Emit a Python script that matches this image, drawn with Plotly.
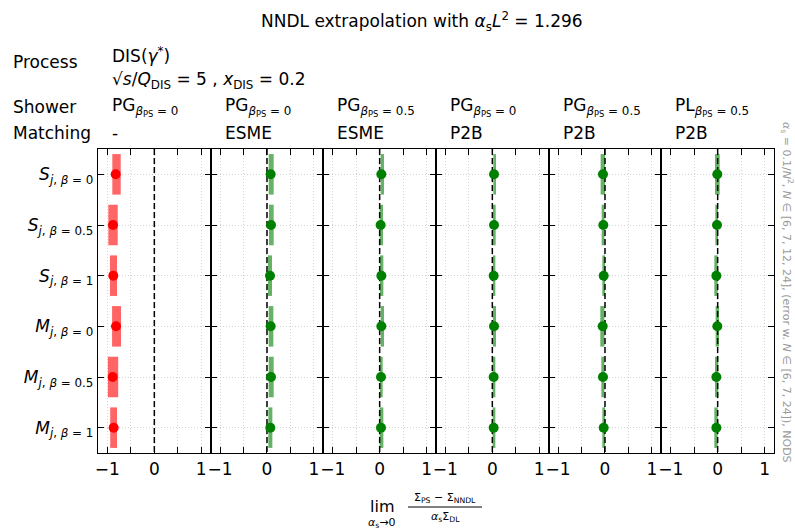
import plotly.graph_objects as go
from plotly.subplots import make_subplots

# ---------------- data ----------------
row_labels = [
    "<i>S</i><sub><i>j</i>, <i>β</i> = 0</sub>",
    "<i>S</i><sub><i>j</i>, <i>β</i> = 0.5</sub>",
    "<i>S</i><sub><i>j</i>, <i>β</i> = 1</sub>",
    "<i>M</i><sub><i>j</i>, <i>β</i> = 0</sub>",
    "<i>M</i><sub><i>j</i>, <i>β</i> = 0.5</sub>",
    "<i>M</i><sub><i>j</i>, <i>β</i> = 1</sub>",
]
row_pos = [0, 1, 2, 3, 4, 5]

shower_labels = [
    "PG<sub><i>β</i><sub>PS</sub> = 0</sub>",
    "PG<sub><i>β</i><sub>PS</sub> = 0</sub>",
    "PG<sub><i>β</i><sub>PS</sub> = 0.5</sub>",
    "PG<sub><i>β</i><sub>PS</sub> = 0</sub>",
    "PG<sub><i>β</i><sub>PS</sub> = 0.5</sub>",
    "PL<sub><i>β</i><sub>PS</sub> = 0.5</sub>",
]
matching_labels = ["-", "ESME", "ESME", "P2B", "P2B", "P2B"]

val_p1 = [-0.823, -0.880, -0.874, -0.816, -0.887, -0.866]
lo_p1 = [-0.895, -0.980, -0.944, -0.900, -0.990, -0.940]
hi_p1 = [-0.716, -0.780, -0.795, -0.710, -0.770, -0.795]

val_p2 = [0.078, 0.085, 0.064, 0.078, 0.085, 0.071]
lo_p2 = [0.036, 0.043, 0.021, 0.036, 0.036, 0.028]
hi_p2 = [0.142, 0.142, 0.107, 0.135, 0.142, 0.114]

val_p3 = [0.036, 0.021, 0.036, 0.036, 0.028, 0.028]
lo_p3 = [0.021, 0.000, 0.007, 0.021, 0.007, 0.000]
hi_p3 = [0.093, 0.071, 0.078, 0.093, 0.064, 0.078]

val_p4 = [0.036, 0.036, 0.028, 0.036, 0.028, 0.028]
lo_p4 = [0.021, 0.014, 0.014, 0.014, 0.007, 0.007]
hi_p4 = [0.078, 0.071, 0.064, 0.078, 0.064, 0.064]

val_p5 = [-0.043, -0.036, -0.028, -0.050, -0.043, -0.028]
lo_p5 = [-0.093, -0.071, -0.057, -0.100, -0.078, -0.057]
hi_p5 = [0.000, -0.014, 0.000, -0.014, -0.014, 0.000]

val_p6 = [-0.007, -0.014, -0.028, -0.007, -0.028, -0.028]
lo_p6 = [-0.057, -0.050, -0.071, -0.043, -0.057, -0.071]
hi_p6 = [0.043, 0.007, 0.000, 0.028, 0.014, 0.000]

panel_vals = [val_p1, val_p2, val_p3, val_p4, val_p5, val_p6]
panel_lo = [lo_p1, lo_p2, lo_p3, lo_p4, lo_p5, lo_p6]
panel_hi = [hi_p1, hi_p2, hi_p3, hi_p4, hi_p5, hi_p6]
panel_colors = ["red", "green", "green", "green", "green", "green"]

x_tickvals = [-1, -0.5, 0, 0.5, 1]
x_ticktext = ["−1", "", "0", "", "1"]

# ---------------- figure ----------------
W, H = 795, 529
ML, MR, MT, MB = 98, 21, 149, 76
FONT = "DejaVu Sans"

fig = make_subplots(rows=1, cols=6, shared_yaxes=True, horizontal_spacing=0)

for i in range(6):
    c = i + 1
    vals, lo, hi, col = panel_vals[i], panel_lo[i], panel_hi[i], panel_colors[i]
    fig.add_trace(go.Bar(
        y=row_pos, x=[h - l for h, l in zip(hi, lo)], base=lo,
        orientation="h", width=0.8, marker=dict(color=col, line=dict(width=0)),
        opacity=0.6, showlegend=False, hoverinfo="skip"), row=1, col=c)
    fig.add_trace(go.Scatter(
        x=[0, 0], y=[-0.5, 5.5], mode="lines",
        line=dict(color="black", width=1.5, dash="6px,3px"),
        showlegend=False, hoverinfo="skip"), row=1, col=c)
    fig.add_trace(go.Scatter(
        x=vals, y=row_pos, mode="markers",
        marker=dict(color=col, size=10, line=dict(width=0)),
        showlegend=False), row=1, col=c)

axis_common = dict(
    showline=True, linecolor="black", linewidth=1.3, mirror="ticks",
    ticks="inside", ticklen=6, tickwidth=1.2, tickcolor="black",
    showgrid=True, gridcolor="#d4d4d4", gridwidth=1, griddash="1px,2px",
    zeroline=False,
)
for i in range(6):
    fig.update_xaxes(axis_common, range=[-1.2, 1.2], tickvals=x_tickvals,
                     ticktext=x_ticktext, tickfont=dict(size=17, family=FONT, color="black"),
                     row=1, col=i + 1)
    fig.update_yaxes(axis_common, range=[5.5, -0.5], tickvals=row_pos,
                     ticktext=row_labels, tickfont=dict(size=17, family=FONT, color="black"),
                     row=1, col=i + 1)

fig.update_layout(
    width=W, height=H, margin=dict(l=ML, r=MR, t=MT, b=MB),
    plot_bgcolor="white", paper_bgcolor="white", barmode="overlay",
    font=dict(family=FONT, color="black"),
)

PW, PH = W - ML - MR, H - MT - MB
def px(x):
    return (x - ML) / PW
def py(y):
    return (H - MB - y) / PH

ann = []
def add(text, x, y, size, xanchor="left", color="black", angle=0):
    ann.append(dict(text=text, x=px(x), y=py(y), xref="paper", yref="paper",
                    xanchor=xanchor, yanchor="middle", showarrow=False,
                    textangle=angle, font=dict(size=size, family=FONT, color=color)))

add("NNDL extrapolation with <i>α</i><sub>s</sub><i>L</i><sup>2</sup> = 1.296", 422, 21, 17, "center")
add("Process", 11, 62, 17)
add("DIS(<i>γ</i><sup>*</sup>)", 110, 55, 17)
add("√<i>s</i>/<i>Q</i><sub>DIS</sub> = 5 , <i>x</i><sub>DIS</sub> = 0.2", 110, 80, 17)
add("Shower", 11, 107, 17)
add("Matching", 11, 133, 17)
for i in range(6):
    x0 = ML + i * PW / 6 + 12
    add(shower_labels[i], x0, 107, 17)
    add(matching_labels[i], x0, 133, 17)

add("<i>α</i><sub>s</sub> = 0.1/<i>N</i><sup>2</sup>, <i>N</i> ∈ [6, 7, 12, 24], (error w. <i>N</i> ∈ [6, 7, 24]), NODS",
    787, 292, 11, "center", color="#999999", angle=90)

# x-axis label: lim_{alpha_s -> 0} (Sigma_PS - Sigma_NNDL)/(alpha_s Sigma_DL)
add("lim", 382, 506, 16, "center")
add("<i>α</i><sub>s</sub>→0", 382, 523, 11, "center")
add("Σ<sub>PS</sub> − Σ<sub>NNDL</sub>", 445, 498, 11, "center")
add("<i>α</i><sub>s</sub>Σ<sub>DL</sub>", 445, 517, 11, "center")
fig.update_layout(annotations=ann)
fig.add_shape(type="line", xref="paper", yref="paper",
              x0=px(408), x1=px(482), y0=py(507), y1=py(507),
              line=dict(color="black", width=1))

fig.write_html("out.html", config={"displayModeBar": False},
               post_script="document.body.style.margin='0';document.body.style.padding='0';")
